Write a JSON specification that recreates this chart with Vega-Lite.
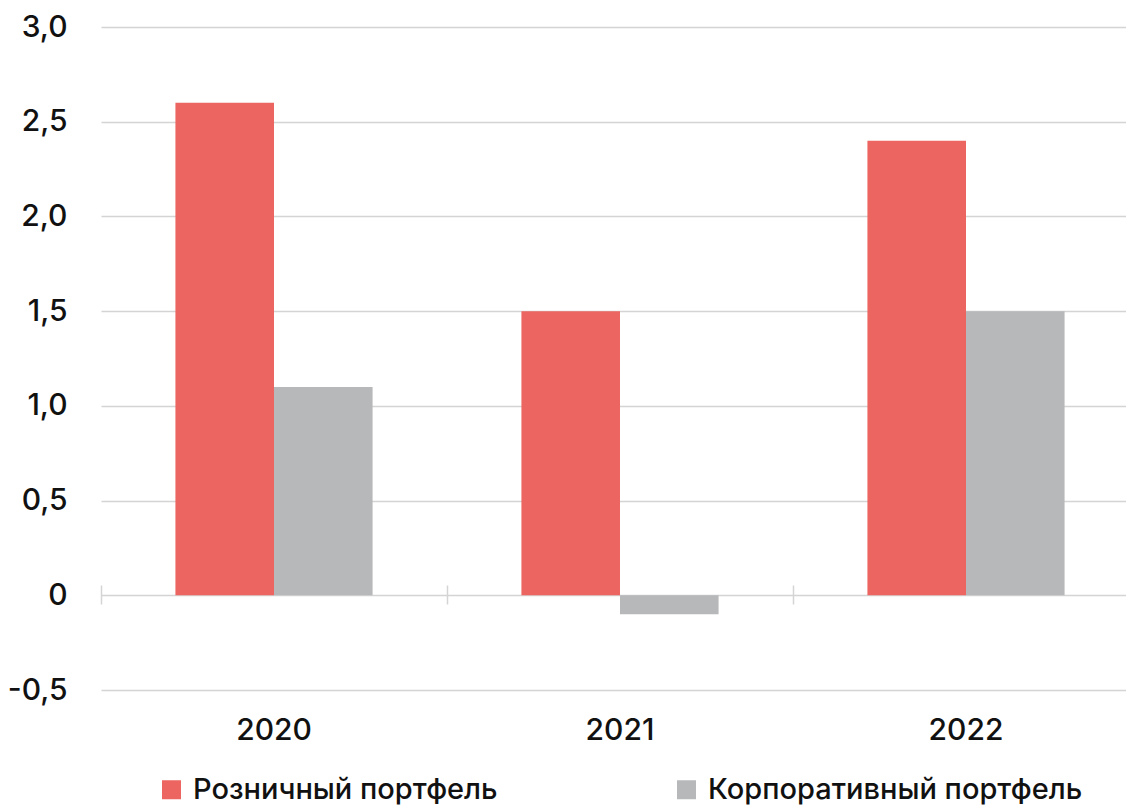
{
  "$schema": "https://vega.github.io/schema/vega-lite/v6.json",
  "width": 1025,
  "height": 663,
  "autosize": {"type": "none"},
  "padding": {"left": 101, "top": 27, "right": 0, "bottom": 115},
  "background": "white",
  "config": {
    "view": {"stroke": null},
    "font": "Inter",
    "axis": {"labelFont": "Inter", "labelColor": "#111111", "labelFontWeight": 500},
    "legend": {"labelFont": "Inter", "labelColor": "#111111", "labelFontWeight": 500}
  },
  "data": {
    "values": [
      {"year": "2020", "series": "Розничный портфель", "value": 2.6},
      {"year": "2020", "series": "Корпоративный портфель", "value": 1.1},
      {"year": "2021", "series": "Розничный портфель", "value": 1.5},
      {"year": "2021", "series": "Корпоративный портфель", "value": -0.1},
      {"year": "2022", "series": "Розничный портфель", "value": 2.4},
      {"year": "2022", "series": "Корпоративный портфель", "value": 1.5}
    ]
  },
  "mark": {"type": "bar"},
  "encoding": {
    "x": {
      "field": "year",
      "type": "nominal",
      "scale": {"type": "band", "range": [0, 1038], "paddingInner": 0, "paddingOuter": 0},
      "axis": {
        "title": null,
        "labelAngle": 0,
        "bandPosition": 0,
        "offset": -105,
        "domain": false,
        "ticks": true,
        "tickSize": 19,
        "tickColor": "#d4d4d4",
        "tickWidth": 1.5,
        "grid": false,
        "labelFontSize": 30,
        "labelPadding": 111,
        "labelBaseline": "top"
      }
    },
    "xOffset": {
      "field": "series",
      "type": "nominal",
      "sort": ["Розничный портфель", "Корпоративный портфель"],
      "scale": {"paddingInner": 0, "paddingOuter": 0.755}
    },
    "y": {
      "field": "value",
      "type": "quantitative",
      "scale": {"domain": [-0.5, 3.0], "nice": false, "zero": false},
      "axis": {
        "title": null,
        "values": [-0.5, 0, 0.5, 1, 1.5, 2, 2.5, 3],
        "labelExpr": "datum.value == 0 ? '0' : (datum.value < 0 ? '-' : '') + replace(format(abs(datum.value), '.1f'), '.', ',')",
        "domain": false,
        "ticks": false,
        "grid": true,
        "gridColor": "#d4d4d4",
        "gridWidth": 1.5,
        "labelFontSize": 30,
        "labelPadding": 34,
        "labelBaseline": "middle"
      }
    },
    "color": {
      "field": "series",
      "type": "nominal",
      "sort": ["Розничный портфель", "Корпоративный портфель"],
      "scale": {"domain": ["Розничный портфель", "Корпоративный портфель"], "range": ["#EC6560", "#B7B8BA"]},
      "legend": {
        "title": null,
        "orient": "none",
        "legendX": 56,
        "legendY": 748,
        "direction": "horizontal",
        "symbolType": "square",
        "symbolSize": 361,
        "symbolStrokeWidth": 0,
        "labelFontSize": 29,
        "labelOffset": 7,
        "columnPadding": 174,
        "labelLimit": 600
      }
    }
  }
}
